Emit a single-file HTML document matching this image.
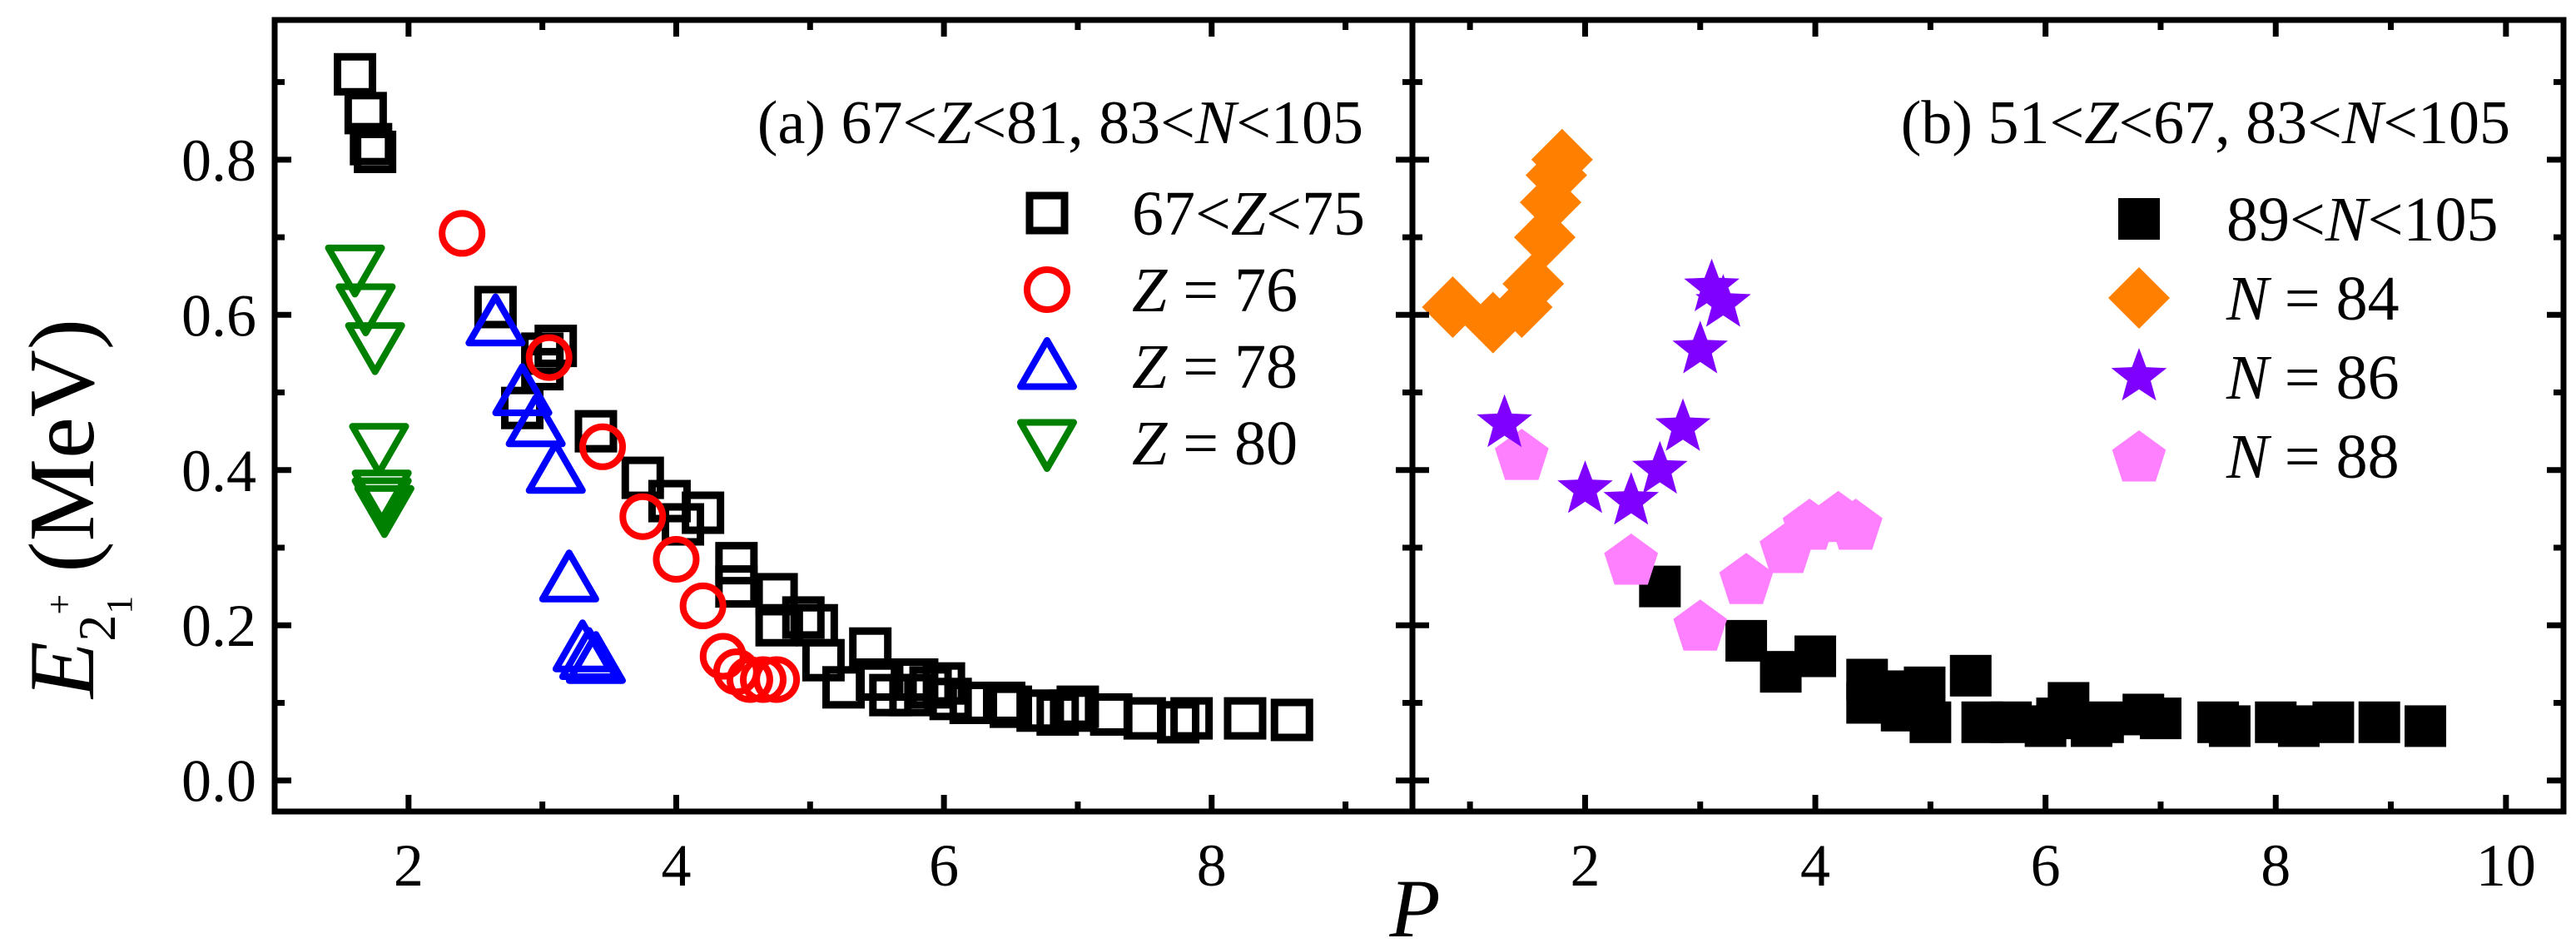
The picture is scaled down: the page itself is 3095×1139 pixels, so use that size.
<!DOCTYPE html>
<html><head><meta charset="utf-8"><style>
html,body{margin:0;padding:0;background:#fff;}
svg{display:block;font-family:"Liberation Serif",serif;}
</style></head><body>
<svg id="chart" width="3095" height="1139" viewBox="0 0 3095 1139" xmlns="http://www.w3.org/2000/svg">
<g id="marks"></g>
<g id="axes"></g>
<text x="1638" y="172" font-size="74" text-anchor="end">(a) 67&lt;<tspan font-style="italic">Z</tspan>&lt;81, 83&lt;<tspan font-style="italic">N</tspan>&lt;105</text>
<text x="3016" y="172" font-size="74" text-anchor="end">(b) 51&lt;<tspan font-style="italic">Z</tspan>&lt;67, 83&lt;<tspan font-style="italic">N</tspan>&lt;105</text>
<text x="1700" y="1125" font-size="100" font-style="italic" text-anchor="middle">P</text>
<text transform="translate(112,611) rotate(-90)" font-size="112" text-anchor="middle"><tspan font-style="italic">E</tspan><tspan font-size="64" dy="26">2</tspan><tspan font-size="44" dy="-52">+</tspan><tspan font-size="44" dx="-24" dy="72">1</tspan><tspan dy="-46"> (MeV)</tspan></text>
</svg>
<script>
// Panel (a)
const aSqX=[1.6,1.68,1.72,1.75,2.65,3.0,3.1,2.85,3.0,3.4,3.75,3.95,4.05,4.2,4.45,4.45,4.75,4.75,4.95,5.05,5.1,5.25,5.45,5.5,5.6,5.75,5.8,5.9,6.0,6.05,6.2,6.45,6.5,6.7,6.85,6.95,7.0,7.25,7.5,7.75,7.85,8.25,8.6];
const aSqY=[0.91,0.86,0.82,0.81,0.61,0.55,0.56,0.48,0.53,0.45,0.39,0.36,0.33,0.345,0.28,0.25,0.24,0.20,0.21,0.20,0.155,0.12,0.17,0.13,0.11,0.11,0.13,0.12,0.125,0.105,0.10,0.10,0.095,0.09,0.085,0.09,0.095,0.085,0.08,0.075,0.08,0.08,0.078];
const z76X=[2.4,3.05,3.45,3.75,4.0,4.2,4.35,4.45,4.55,4.65,4.75];
const z76Y=[0.705,0.545,0.43,0.34,0.285,0.225,0.16,0.14,0.13,0.13,0.13];
const z78X=[2.65,2.85,2.95,3.1,3.2,3.3,3.35,3.4];
const z78Y=[0.59,0.50,0.46,0.40,0.26,0.17,0.16,0.155];
const z80X=[1.6,1.68,1.75,1.78,1.8,1.8,1.82];
const z80Y=[0.66,0.61,0.56,0.43,0.37,0.36,0.35];
// Panel (b)
const bSqX=[2.65,3.4,3.7,4.0,4.45,4.45,4.7,4.75,4.95,5.0,5.35,5.45,5.7,6.0,6.1,6.2,6.4,6.5,6.85,7.0,7.5,7.6,8.0,8.2,8.5,8.9,9.3];
const bSqY=[0.25,0.18,0.14,0.16,0.13,0.10,0.115,0.09,0.12,0.075,0.135,0.075,0.075,0.07,0.08,0.10,0.07,0.075,0.085,0.08,0.075,0.07,0.075,0.07,0.075,0.075,0.07];
const n84X=[0.85,1.2,1.45,1.55,1.65,1.7,1.75,1.8];
const n84Y=[0.61,0.59,0.61,0.64,0.70,0.745,0.78,0.80];
const n86X=[1.3,2.0,2.4,2.65,2.85,3.0,3.1,3.2];
const n86Y=[0.46,0.375,0.36,0.40,0.455,0.555,0.635,0.615];
const n88X=[1.45,2.4,3.0,3.4,3.75,3.95,4.2,4.35];
const n88Y=[0.42,0.285,0.20,0.26,0.30,0.33,0.34,0.33];
const yTicks=[0.0,0.2,0.4,0.6,0.8];
const aXTicks=[2,4,6,8];
const bXTicks=[2,4,6,8,10];

const NS="http://www.w3.org/2000/svg";
const Y0=24, Y1=975;
const PA={l:330,r:1697,xmin:1.0,xmax:9.5};
const PB={l:1697,r:3080,xmin:0.5,xmax:10.5};
const yMin=-0.04, yMax=0.98;
function sy(v){return Y1-(v-yMin)/(yMax-yMin)*(Y1-Y0);}
function sx(p,v){return p.l+(v-p.xmin)/(p.xmax-p.xmin)*(p.r-p.l);}
const marks=document.getElementById('marks');
const axes=document.getElementById('axes');
function mk(tag,attrs,parent){const e=document.createElementNS(NS,tag);for(const k in attrs)e.setAttribute(k,attrs[k]);(parent||marks).appendChild(e);return e;}
function poly(n,r,rot,cx,cy){let s=[];for(let i=0;i<n;i++){const a=rot+i*2*Math.PI/n;s.push((cx+r*Math.sin(a)).toFixed(1)+","+(cy-r*Math.cos(a)).toFixed(1));}return s.join(" ");}
function star(cx,cy,R){let s=[];for(let i=0;i<10;i++){const r=i%2?R*0.42:R;const a=i*Math.PI/5;s.push((cx+r*Math.sin(a)).toFixed(1)+","+(cy-r*Math.cos(a)).toFixed(1));}return s.join(" ");}
function draw(kind,cx,cy,name){
  let e;
  if(kind==='osq') e=mk('rect',{x:cx-21,y:cy-21,width:42,height:42,fill:'none',stroke:'#000','stroke-width':9});
  else if(kind==='circ') e=mk('circle',{cx:cx,cy:cy,r:24,fill:'none',stroke:'#ff0000','stroke-width':8});
  else if(kind==='tri') e=mk('polygon',{points:poly(3,37,0,cx,cy+6),fill:'none',stroke:'#0000ff','stroke-width':8,'stroke-linejoin':'round'});
  else if(kind==='dtri') e=mk('polygon',{points:poly(3,37,Math.PI,cx,cy-6),fill:'none',stroke:'#008000','stroke-width':8,'stroke-linejoin':'round'});
  else if(kind==='fsq') e=mk('rect',{x:cx-25,y:cy-25,width:50,height:50,fill:'#000'});
  else if(kind==='dia') e=mk('polygon',{points:poly(4,37,0,cx,cy),fill:'#ff8000'});
  else if(kind==='star') e=mk('polygon',{points:star(cx,cy,35),fill:'#8000ff'});
  else if(kind==='pent') e=mk('polygon',{points:poly(5,34,0,cx,cy+3),fill:'#ff80ff'});
  
  
  return e;
}
function series(p,xs,ys,kind,name){for(let i=0;i<xs.length;i++){draw(kind,sx(p,xs[i]),sy(ys[i]),name);}}
series(PA,aSqX,aSqY,'osq','point-67z75');
series(PA,z76X,z76Y,'circ','point-z76');
series(PA,z78X,z78Y,'tri','point-z78');
series(PA,z80X,z80Y,'dtri','point-z80');
series(PB,bSqX,bSqY,'fsq','point-89n105');
series(PB,n84X,n84Y,'dia','point-n84');
series(PB,n88X,n88Y,'pent','point-n88');
series(PB,n86X,n86Y,'star','point-n86');

[PA,PB].forEach((p,pi)=>{
  const f=mk('rect',{x:p.l,y:Y0,width:p.r-p.l,height:Y1-Y0,fill:'none',stroke:'#000','stroke-width':7},axes);
  
  
  for(let k=0;k<=9;k++){
    const v=k*0.1, y=sy(v), L=(k%2===0)?20:12;
    mk('line',{x1:p.l,x2:p.l+L,y1:y,y2:y,stroke:'#000','stroke-width':7},axes);
    mk('line',{x1:p.r,x2:p.r-L,y1:y,y2:y,stroke:'#000','stroke-width':7},axes);
  }
  const maxX=pi?10:9;
  for(let v=1;v<=maxX;v++){
    const x=sx(p,v); if(x<=p.l+3||x>=p.r-3) continue;
    const L=(v%2===0)?20:12;
    mk('line',{x1:x,x2:x,y1:Y1,y2:Y1-L,stroke:'#000','stroke-width':7},axes);
    mk('line',{x1:x,x2:x,y1:Y0,y2:Y0+L,stroke:'#000','stroke-width':7},axes);
  }
});
yTicks.forEach(v=>{
  const t=mk('text',{x:308,y:sy(v)+25,'font-size':72,'text-anchor':'end'},axes);
  t.textContent=v.toFixed(1);
  
  
});
aXTicks.forEach(v=>{
  const t=mk('text',{x:sx(PA,v),y:1064,'font-size':72,'text-anchor':'middle'},axes);
  t.textContent=v;
  
  
});
bXTicks.forEach(v=>{
  const t=mk('text',{x:sx(PB,v),y:1064,'font-size':72,'text-anchor':'middle'},axes);
  t.textContent=v;
  
  
});
const legA=[['osq','67<Z<75'],['circ','Z = 76'],['tri','Z = 78'],['dtri','Z = 80']];
const legB=[['fsq','89<N<105'],['dia','N = 84'],['star','N = 86'],['pent','N = 88']];
function legend(items,mx,tx,y0,dy,name){
  items.forEach((it,i)=>{
    const y=y0+i*dy;
    draw(it[0],mx,y,name+'-marker');
    const t=mk('text',{x:tx,y:y+26,'font-size':76},axes);
    
    
    const s=it[1]; const letter=s.match(/[ZN]/)[0]; const idx=s.indexOf(letter);
    t.appendChild(document.createTextNode(s.slice(0,idx)));
    const ts=document.createElementNS(NS,'tspan'); ts.setAttribute('font-style','italic'); ts.textContent=letter; t.appendChild(ts);
    t.appendChild(document.createTextNode(s.slice(idx+1)));
  });
}
legend(legA,1258,1360,256,92,'legend-a');
legend(legB,2570,2675,263,95,'legend-b');
</script>
</body></html>
